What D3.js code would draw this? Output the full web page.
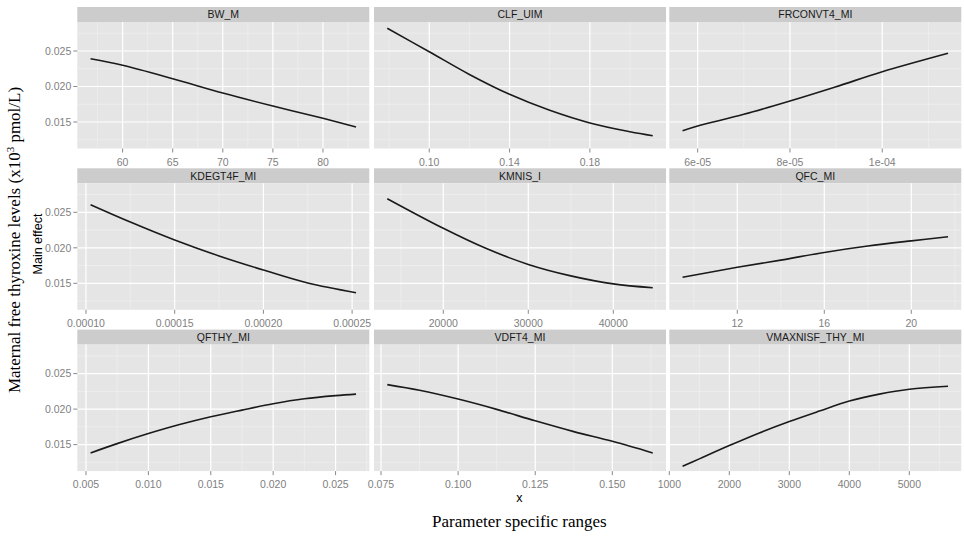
<!DOCTYPE html>
<html><head><meta charset="utf-8">
<script src="https://cdn.jsdelivr.net/npm/d3@7"></script>
<style>body{margin:0;background:#fff} svg{display:block}</style>
</head><body>
<svg id="c" width="964" height="539"></svg>
<script>
// ---- data ----
const panelNames = ["BW_M","CLF_UIM","FRCONVT4_MI","KDEGT4F_MI","KMNIS_I","QFC_MI","QFTHY_MI","VDFT4_MI","VMAXNISF_THY_MI"];

const bwX = [56.8, 60, 65, 70, 75, 80, 83.3];
const bwY = [0.0239, 0.02299, 0.0211, 0.01908, 0.01725, 0.01552, 0.0143];
const clfX = [0.0791, 0.10, 0.12, 0.14, 0.16, 0.18, 0.20, 0.2113];
const clfY = [0.0282, 0.0249, 0.0217, 0.0189, 0.01665, 0.01487, 0.01363, 0.01307];
const frcX = [5.673e-5, 6e-5, 7e-5, 8e-5, 9e-5, 1e-4, 1.1425e-4];
const frcY = [0.01377, 0.01444, 0.01608, 0.01796, 0.01997, 0.02208, 0.02468];
const kdeX = [1.026e-4, 1.25e-4, 1.5e-4, 1.75e-4, 2e-4, 2.25e-4, 2.522e-4];
const kdeY = [0.02607, 0.02363, 0.0211, 0.01885, 0.01687, 0.01504, 0.01368];
const kmnX = [13409, 20000, 25000, 30000, 35000, 40000, 44639];
const kmnY = [0.02692, 0.02275, 0.01993, 0.01766, 0.01605, 0.01492, 0.01438];
const qfcX = [9.484, 12, 14, 16, 18, 20, 21.69];
const qfcY = [0.01585, 0.01725, 0.01827, 0.01935, 0.02025, 0.02098, 0.02155];
const qftX = [0.005367, 0.0075, 0.010, 0.0125, 0.015, 0.0175, 0.020, 0.0225, 0.025, 0.02664];
const qftY = [0.01383, 0.01514, 0.01655, 0.01782, 0.01892, 0.01986, 0.02075, 0.02145, 0.0219, 0.02211];
const vdfX = [0.07703, 0.0875, 0.100, 0.1125, 0.125, 0.1375, 0.15, 0.1631];
const vdfY = [0.02345, 0.02265, 0.02141, 0.01996, 0.01835, 0.01683, 0.01546, 0.01383];
const vmaX = [1221, 1500, 2000, 2500, 3000, 3500, 4000, 4500, 5000, 5645];
const vmaY = [0.01194, 0.01299, 0.01486, 0.01664, 0.01825, 0.01972, 0.02113, 0.02211, 0.0228, 0.02321];

const bwTicks = [60, 65, 70, 75, 80];
const bwLabels = ["60", "65", "70", "75", "80"];
const clfTicks = [0.10, 0.14, 0.18];
const clfLabels = ["0.10", "0.14", "0.18"];
const frcTicks = [6e-5, 8e-5, 1e-4];
const frcLabels = ["6e-05", "8e-05", "1e-04"];
const kdeTicks = [1e-4, 1.5e-4, 2e-4, 2.5e-4];
const kdeLabels = ["0.00010", "0.00015", "0.00020", "0.00025"];
const kmnTicks = [20000, 30000, 40000];
const kmnLabels = ["20000", "30000", "40000"];
const qfcTicks = [12, 16, 20];
const qfcLabels = ["12", "16", "20"];
const qftTicks = [0.005, 0.010, 0.015, 0.020, 0.025];
const qftLabels = ["0.005", "0.010", "0.015", "0.020", "0.025"];
const vdfTicks = [0.075, 0.100, 0.125, 0.150];
const vdfLabels = ["0.075", "0.100", "0.125", "0.150"];
const vmaTicks = [1000, 2000, 3000, 4000, 5000];
const vmaLabels = ["1000", "2000", "3000", "4000", "5000"];

const yTicks = [0.015, 0.020, 0.025];
const yLabels = ["0.015", "0.020", "0.025"];
const yDomain = [0.01127, 0.029085];

const yTitle = "Main effect";
const xTitle = "x";
const outerX = "Parameter specific ranges";

// ---- assemble ----
const xsAll = [bwX, clfX, frcX, kdeX, kmnX, qfcX, qftX, vdfX, vmaX];
const ysAll = [bwY, clfY, frcY, kdeY, kmnY, qfcY, qftY, vdfY, vmaY];
const ticksAll = [bwTicks, clfTicks, frcTicks, kdeTicks, kmnTicks, qfcTicks, qftTicks, vdfTicks, vmaTicks];
const labelsAll = [bwLabels, clfLabels, frcLabels, kdeLabels, kmnLabels, qfcLabels, qftLabels, vdfLabels, vmaLabels];

// ---- layout ----
const colX = [77.3, 374, 669.3];
const panelW = 292;
const panelTop = [22, 183.3, 344.6];
const panelH = 126.5;
const stripH = 15;

const svg = d3.select("#c");
const font = "'Liberation Sans', Arial, sans-serif";
const serif = "'Liberation Serif', 'Times New Roman', serif";

function minorBreaks(major, dom) {
  const step = major[1] - major[0];
  const ext = [major[0] - step, ...major, major[major.length - 1] + step];
  const out = [];
  for (let i = 0; i < ext.length - 1; i++) {
    const m = (ext[i] + ext[i + 1]) / 2;
    if (m >= dom[0] && m <= dom[1]) out.push(m);
  }
  return out;
}

panelNames.forEach((name, i) => {
  const r = Math.floor(i / 3), c = i % 3;
  const x0 = colX[c], y0 = panelTop[r];
  const xs = xsAll[i], ys = ysAll[i];
  const ext = d3.extent(xs);
  const pad = (ext[1] - ext[0]) * 0.05;
  const xDom = [ext[0] - pad, ext[1] + pad];
  const xS = d3.scaleLinear().domain(xDom).range([x0, x0 + panelW]);
  const yS = d3.scaleLinear().domain(yDomain).range([y0 + panelH, y0]);
  const g = svg.append("g");

  // strip
  g.append("rect").attr("x", x0).attr("y", y0 - stripH).attr("width", panelW).attr("height", stripH).attr("fill", "#cccccc");
  g.append("text").attr("x", x0 + panelW / 2).attr("y", y0 - stripH / 2 + 3.8)
    .attr("text-anchor", "middle").attr("font-family", font).attr("font-size", 10.5).attr("fill", "#1a1a1a").text(name);

  // panel
  g.append("rect").attr("x", x0).attr("y", y0).attr("width", panelW).attr("height", panelH).attr("fill", "#e5e5e5");

  const xt = ticksAll[i].filter(t => t >= xDom[0] - 1e-12 && t <= xDom[1]);
  const xm = minorBreaks(ticksAll[i], xDom);
  const ym = minorBreaks(yTicks, yDomain);

  // minor grid
  g.selectAll(null).data(xm).enter().append("line")
    .attr("x1", d => xS(d)).attr("x2", d => xS(d)).attr("y1", y0).attr("y2", y0 + panelH)
    .attr("stroke", "#f2f2f2").attr("stroke-width", 0.6);
  g.selectAll(null).data(ym).enter().append("line")
    .attr("x1", x0).attr("x2", x0 + panelW).attr("y1", d => yS(d)).attr("y2", d => yS(d))
    .attr("stroke", "#f2f2f2").attr("stroke-width", 0.6);
  // major grid
  g.selectAll(null).data(xt).enter().append("line")
    .attr("x1", d => xS(d)).attr("x2", d => xS(d)).attr("y1", y0).attr("y2", y0 + panelH)
    .attr("stroke", "#ffffff").attr("stroke-width", 1.2);
  g.selectAll(null).data(yTicks).enter().append("line")
    .attr("x1", x0).attr("x2", x0 + panelW).attr("y1", d => yS(d)).attr("y2", d => yS(d))
    .attr("stroke", "#ffffff").attr("stroke-width", 1.2);

  // line
  const pts = xs.map((x, k) => [x, ys[k]]);
  g.append("path").datum(pts)
    .attr("d", d3.line().x(d => xS(d[0])).y(d => yS(d[1])).curve(d3.curveCatmullRom.alpha(0.5)))
    .attr("fill", "none").attr("stroke", "#1a1a1a").attr("stroke-width", 1.6);

  // x axis ticks + labels
  const labs = labelsAll[i];
  ticksAll[i].forEach((t, k) => {
    if (t < xDom[0] - 1e-12 || t > xDom[1]) return;
    const px = xS(t);
    g.append("line").attr("x1", px).attr("x2", px).attr("y1", y0 + panelH).attr("y2", y0 + panelH + 4)
      .attr("stroke", "#6b6b6b").attr("stroke-width", 0.8);
    g.append("text").attr("x", px).attr("y", y0 + panelH + 17)
      .attr("text-anchor", "middle").attr("font-family", font).attr("font-size", 10.5).attr("fill", "#7f7f7f").text(labs[k]);
  });

  // y axis (first column)
  if (c === 0) {
    yTicks.forEach((t, k) => {
      const py = yS(t);
      g.append("line").attr("x1", x0 - 4).attr("x2", x0).attr("y1", py).attr("y2", py)
        .attr("stroke", "#6b6b6b").attr("stroke-width", 0.8);
      g.append("text").attr("x", x0 - 6).attr("y", py + 3.8)
        .attr("text-anchor", "end").attr("font-family", font).attr("font-size", 10.5).attr("fill", "#7f7f7f").text(yLabels[k]);
    });
  }
});

// axis titles
const midX = colX[0] + (colX[2] + panelW - colX[0]) / 2;
svg.append("text").attr("x", midX).attr("y", 501.5).attr("text-anchor", "middle")
  .attr("font-family", font).attr("font-size", 12.5).attr("fill", "#000").text(xTitle);
svg.append("text").attr("transform", "translate(41.5,244) rotate(-90)").attr("text-anchor", "middle")
  .attr("font-family", font).attr("font-size", 12.5).attr("fill", "#000").text(yTitle);

// outer titles
svg.append("text").attr("x", midX).attr("y", 527).attr("text-anchor", "middle")
  .attr("font-family", serif).attr("font-size", 17).attr("fill", "#000").text(outerX);
const oy = svg.append("text").attr("transform", "translate(20,240) rotate(-90)").attr("text-anchor", "middle")
  .attr("font-family", serif).attr("font-size", 17).attr("fill", "#000");
oy.append("tspan").text("Maternal free thyroxine  levels (x10");
oy.append("tspan").attr("font-size", 11).attr("dy", -6).text("3");
oy.append("tspan").attr("dy", 6).text(" pmol/L)");
</script>
</body></html>
